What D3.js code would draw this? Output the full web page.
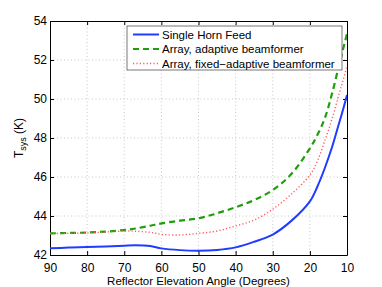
<!DOCTYPE html>
<html>
<head>
<meta charset="utf-8">
<script src="https://cdn.jsdelivr.net/npm/d3@7"></script>
<style>
  body { margin: 0; background: #fff; }
  text { font-family: "Liberation Sans", Arial, sans-serif; }
</style>
</head>
<body>
<div id="plot"></div>
<script>
const angles = [90, 85, 80, 75, 70, 67, 63, 60, 55, 50, 45, 40, 35, 30, 25, 20, 18, 16, 14, 12, 11, 10];
const singleHorn = [42.34, 42.38, 42.41, 42.44, 42.48, 42.50, 42.46, 42.34, 42.25, 42.22, 42.26, 42.39, 42.68, 43.05, 43.75, 44.75, 45.5, 46.45, 47.55, 48.85, 49.5, 50.2];
const adaptive = [43.11, 43.13, 43.15, 43.2, 43.28, 43.36, 43.5, 43.62, 43.76, 43.88, 44.14, 44.45, 44.82, 45.33, 46.15, 47.47, 48.15, 49.0, 50.3, 51.85, 52.6, 53.35];
const fixedAdaptive = [43.1, 43.11, 43.13, 43.18, 43.23, 43.22, 43.16, 43.06, 43.03, 43.11, 43.23, 43.49, 43.79, 44.35, 45.12, 46.1, 46.8, 47.85, 49.0, 50.35, 51.0, 51.7];
const xTicks = [90, 80, 70, 60, 50, 40, 30, 20, 10];
const yTicks = [42, 44, 46, 48, 50, 52, 54];

const series = [
    {name: "Single Horn Feed", values: singleHorn, color: "#1f3cff", width: 2, dash: null},
    {name: "Array, adaptive beamformer", values: adaptive, color: "#1e9e0a", width: 2.2, dash: "6,4"},
    {name: "Array, fixed\u2212adaptive beamformer", values: fixedAdaptive, color: "#ff5a5a", width: 1.4, dash: "1.2,2.2"}
];

const margin = {top: 21, right: 35, bottom: 32, left: 50},
    width = 382 - margin.left - margin.right,
    height = 287 - margin.top - margin.bottom;

const svg = d3.select("#plot")
    .append("svg")
    .attr("width", 382)
    .attr("height", 287)
    .append("g")
    .attr("transform", `translate(${margin.left},${margin.top})`);

const x = d3.scaleLinear().domain([90, 10]).range([0, width]);
const y = d3.scaleLinear().domain([42, 54]).range([height, 0]);

// grid
svg.append("g")
    .selectAll("line")
    .data(xTicks.slice(1, -1))
    .enter().append("line")
    .attr("x1", d => x(d)).attr("x2", d => x(d))
    .attr("y1", 0).attr("y2", height)
    .attr("stroke", "#bbb").attr("stroke-width", 0.8)
    .attr("stroke-dasharray", "1,2.5");

svg.append("g")
    .selectAll("line")
    .data(yTicks.slice(1, -1))
    .enter().append("line")
    .attr("x1", 0).attr("x2", width)
    .attr("y1", d => y(d)).attr("y2", d => y(d))
    .attr("stroke", "#bbb").attr("stroke-width", 0.8)
    .attr("stroke-dasharray", "1,2.5");

// axes
svg.append("g")
    .attr("transform", `translate(0,${height})`)
    .call(d3.axisBottom(x).tickValues(xTicks).tickSizeInner(-4).tickSizeOuter(0).tickPadding(8));
svg.append("g")
    .call(d3.axisLeft(y).tickValues(yTicks).tickSizeInner(-4).tickSizeOuter(0).tickPadding(3));
svg.append("g")
    .call(d3.axisTop(x).tickValues(xTicks).tickSizeInner(-4).tickSizeOuter(0).tickFormat(""));
svg.append("g")
    .attr("transform", `translate(${width},0)`)
    .call(d3.axisRight(y).tickValues(yTicks).tickSizeInner(-4).tickSizeOuter(0).tickFormat(""));

svg.selectAll(".domain").attr("stroke", "#000").attr("stroke-width", 1);
svg.selectAll(".tick line").attr("stroke", "#000");
svg.selectAll(".tick text").style("font-size", "12px").attr("fill", "#000")
    .style("font-family", "'Liberation Sans', Arial, sans-serif");

const line = d3.line()
    .x((d, i) => x(angles[i]))
    .y(d => y(d))
    .curve(d3.curveCatmullRom.alpha(0.5));

svg.append("clipPath").attr("id", "clip")
    .append("rect").attr("width", width).attr("height", height);

series.forEach(s => {
    svg.append("path")
        .datum(s.values)
        .attr("clip-path", "url(#clip)")
        .attr("fill", "none")
        .attr("stroke", s.color)
        .attr("stroke-width", s.width)
        .attr("stroke-dasharray", s.dash)
        .attr("d", line);
});

// legend
const lg = svg.append("g").attr("transform", "translate(77,5)");
lg.append("rect")
    .attr("width", 215).attr("height", 44)
    .attr("fill", "#fff").attr("stroke", "#555").attr("stroke-width", 0.8);
series.forEach((s, i) => {
    const yy = 8.5 + i * 14.5;
    lg.append("line")
        .attr("x1", 6).attr("x2", 32)
        .attr("y1", yy).attr("y2", yy)
        .attr("stroke", s.color)
        .attr("stroke-width", s.width)
        .attr("stroke-dasharray", s.dash);
    lg.append("text")
        .attr("x", 35).attr("y", yy + 4)
        .style("font-size", "11.5px")
        .text(s.name);
});

// labels
svg.append("text")
    .attr("text-anchor", "middle")
    .attr("x", width / 2)
    .attr("y", height + 30)
    .style("font-size", "11.5px")
    .text("Reflector Elevation Angle (Degrees)");

const yl = svg.append("text")
    .attr("text-anchor", "middle")
    .attr("transform", `translate(${-27},${height / 2}) rotate(-90)`)
    .style("font-size", "12px");
yl.append("tspan").text("T");
yl.append("tspan").attr("dy", 3).style("font-size", "9px").text("sys");
yl.append("tspan").attr("dy", -3).text(" (K)");
</script>
</body>
</html>
